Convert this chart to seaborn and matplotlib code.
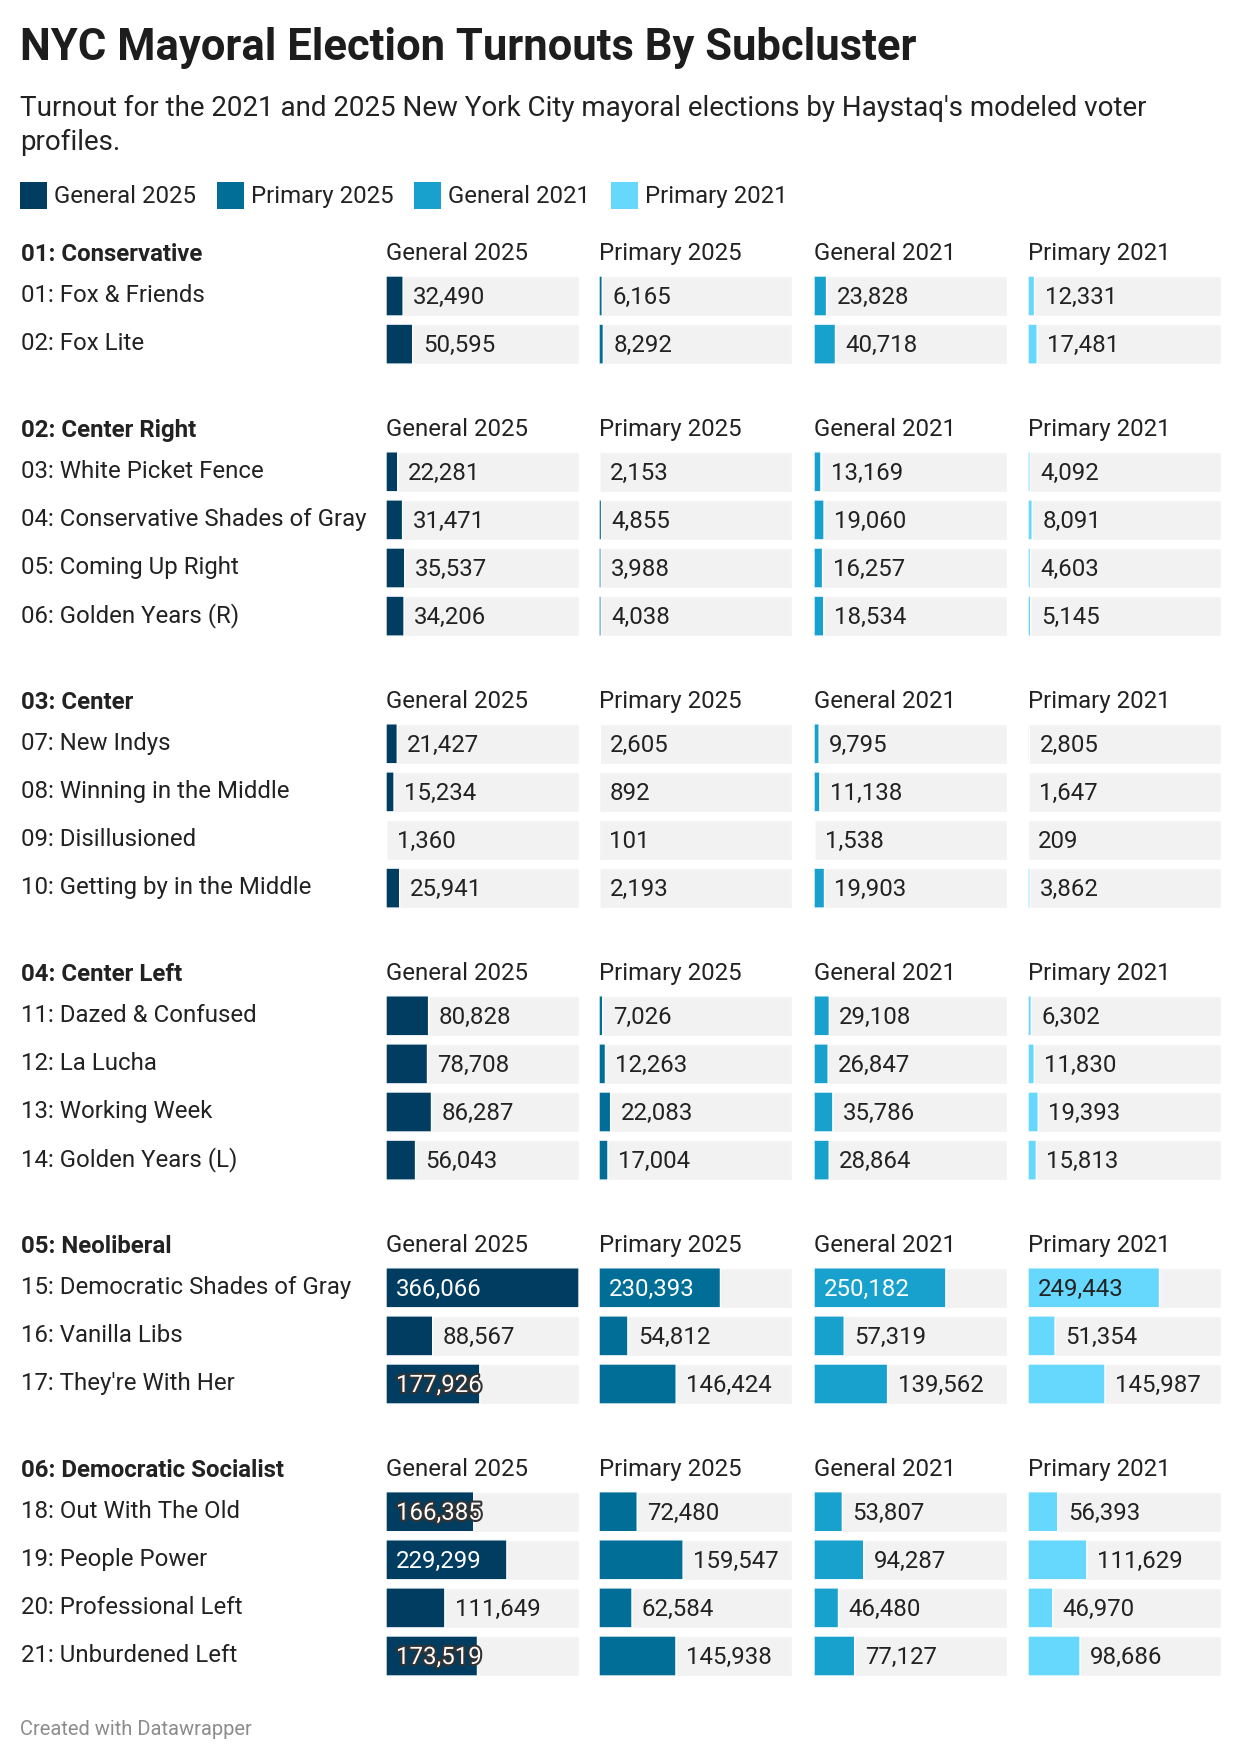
import matplotlib
matplotlib.use("Agg")
import matplotlib.pyplot as plt
import matplotlib.patheffects as pe
from matplotlib.transforms import ScaledTranslation
from matplotlib.patches import Rectangle
import seaborn as sns
import pandas as pd

# ---------------- data ----------------
title = "NYC Mayoral Election Turnouts By Subcluster"
subtitle = ("Turnout for the 2021 and 2025 New York City mayoral elections by Haystaq's modeled voter\n"
            "profiles.")
footer = "Created with Datawrapper"

series_names = ["General 2025", "Primary 2025", "General 2021", "Primary 2021"]
series_colors = ["#003d60", "#006e96", "#18a1cd", "#66d7fd"]

groups = ["01: Conservative", "02: Center Right", "03: Center", "04: Center Left",
          "05: Neoliberal", "06: Democratic Socialist"]
group_sizes = [2, 4, 4, 4, 3, 4]

subclusters = [
    "01: Fox & Friends", "02: Fox Lite",
    "03: White Picket Fence", "04: Conservative Shades of Gray", "05: Coming Up Right", "06: Golden Years (R)",
    "07: New Indys", "08: Winning in the Middle", "09: Disillusioned", "10: Getting by in the Middle",
    "11: Dazed & Confused", "12: La Lucha", "13: Working Week", "14: Golden Years (L)",
    "15: Democratic Shades of Gray", "16: Vanilla Libs", "17: They're With Her",
    "18: Out With The Old", "19: People Power", "20: Professional Left", "21: Unburdened Left",
]

general_2025 = [32490, 50595,
                22281, 31471, 35537, 34206,
                21427, 15234, 1360, 25941,
                80828, 78708, 86287, 56043,
                366066, 88567, 177926,
                166385, 229299, 111649, 173519]
primary_2025 = [6165, 8292,
                2153, 4855, 3988, 4038,
                2605, 892, 101, 2193,
                7026, 12263, 22083, 17004,
                230393, 54812, 146424,
                72480, 159547, 62584, 145938]
general_2021 = [23828, 40718,
                13169, 19060, 16257, 18534,
                9795, 11138, 1538, 19903,
                29108, 26847, 35786, 28864,
                250182, 57319, 139562,
                53807, 94287, 46480, 77127]
primary_2021 = [12331, 17481,
                4092, 8091, 4603, 5145,
                2805, 1647, 209, 3862,
                6302, 11830, 19393, 15813,
                249443, 51354, 145987,
                56393, 111629, 46970, 98686]

series_values = [general_2025, primary_2025, general_2021, primary_2021]

# ---------------- layout (pixels) ----------------
W, H = 1240, 1762
PANEL_X = [386, 599, 814, 1028]
PANEL_W = 193
ROW_PITCH = 48.1
FIRST_ROW = 296
GROUP_EXTRA = 79.6
BAR_W = 40 / ROW_PITCH
LEFT = 21
TEXT = "#222222"
BG = "#f2f2f2"
FS = 17.3

sns.set_theme(style="white")
plt.rcParams['font.family'] = ['Roboto', 'DejaVu Sans']

fig = plt.figure(figsize=(W / 100, H / 100), dpi=100)
fig.patch.set_facecolor("white")


def fx(x):
    return x / W


def fy(y):
    return 1 - y / H


# title & subtitle
fig.text(fx(20), fy(60), title, fontsize=31.4, fontweight='bold', color="#1d1d1d", va='baseline')
fig.text(fx(20), fy(116), subtitle.split("\n")[0], fontsize=20, color="#222222", va='baseline')
fig.text(fx(20), fy(150), subtitle.split("\n")[1], fontsize=20, color="#222222", va='baseline')

# legend
legend_x = [20, 217, 414, 611]
for lx, name, col in zip(legend_x, series_names, series_colors):
    fig.patches.append(Rectangle((fx(lx), fy(209)), 27 / W, 27 / H, transform=fig.transFigure,
                                 facecolor=col, edgecolor='none'))
    fig.text(fx(lx + 34), fy(203), name, fontsize=FS, color=TEXT, va='baseline')

xmax = max(max(v) for v in series_values)

value_texts = []
start = 0
center = FIRST_ROW
for gname, n in zip(groups, group_sizes):
    names = subclusters[start:start + n]
    # group header
    fig.text(fx(LEFT), fy(center - 35), gname, fontsize=FS, fontweight='bold', color=TEXT, va='baseline')
    for i, nm in enumerate(names):
        fig.text(fx(LEFT), fy(center + i * ROW_PITCH + 6), nm, fontsize=FS, color=TEXT, va='baseline')
    top = center - ROW_PITCH / 2
    for p, (sname, col, vals) in enumerate(zip(series_names, series_colors, series_values)):
        fig.text(fx(PANEL_X[p]), fy(center - 36), sname, fontsize=FS, color=TEXT, va='baseline')
        gvals = vals[start:start + n]
        df = pd.DataFrame({"label": names, "value": gvals, "full": [xmax] * n})
        ax = fig.add_axes([fx(PANEL_X[p]), fy(top + n * ROW_PITCH), PANEL_W / W, n * ROW_PITCH / H])
        sns.barplot(data=df, y="label", x="full", color=BG, width=BAR_W, saturation=1,
                    errorbar=None, orient='h', ax=ax)
        n_bg = len(ax.patches)
        sns.barplot(data=df, y="label", x="value", color=col, width=BAR_W, saturation=1,
                    errorbar=None, orient='h', ax=ax)
        for patch in ax.patches[n_bg:]:
            patch.set_snap(False)
        ax.set_xlim(0, xmax)
        ax.set_ylim(n - 0.5, -0.5)
        ax.axis('off')
        off = ScaledTranslation(10 / 100, -8 / 100, fig.dpi_scale_trans)
        for i, v in enumerate(gvals):
            label = f"{v:,}"
            if v / xmax >= 0.44:
                tcol = TEXT if p == 3 else "white"
                t = ax.text(0, i, label, fontsize=FS, color=tcol, va='baseline', ha='left',
                            transform=ax.transData + off)
                value_texts.append((ax, t, v, tcol))
            else:
                ax.text(v, i, label, fontsize=FS, color=TEXT, va='baseline', ha='left',
                        transform=ax.transData + off)
    start += n
    center += n * ROW_PITCH + GROUP_EXTRA

# halo for inside labels that overflow their bar
fig.canvas.draw()
renderer = fig.canvas.get_renderer()
for ax, t, v, tcol in value_texts:
    bb = t.get_window_extent(renderer)
    bar_end = ax.transData.transform((v, 0))[0]
    if bb.x1 > bar_end - 1 and tcol == "white":
        t.set_path_effects([pe.withStroke(linewidth=3, foreground="#333333")])

fig.text(fx(20), fy(1735), footer, fontsize=14.5, color="#8c8c8c", va='baseline')

fig.savefig("out.png", dpi=100, facecolor="white")
